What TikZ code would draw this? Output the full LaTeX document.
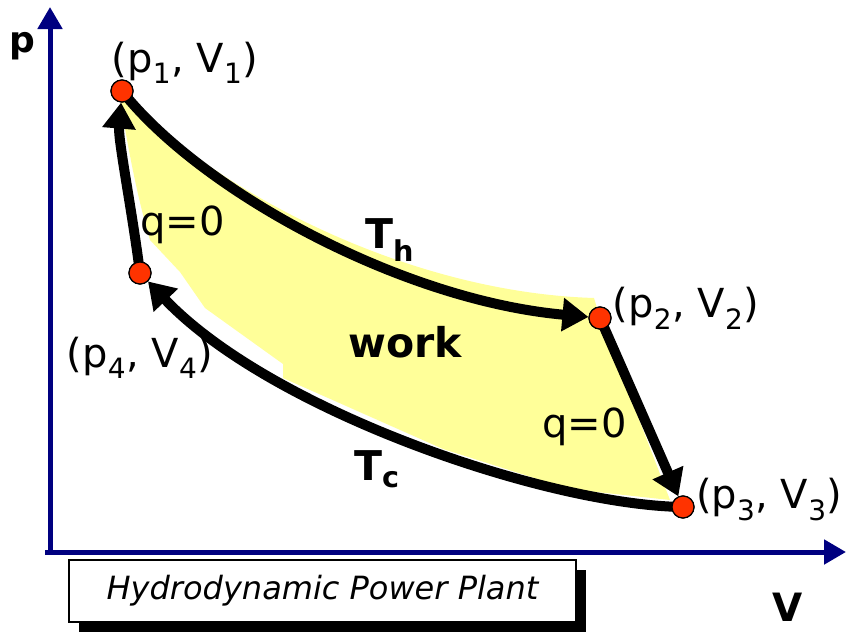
\documentclass[tikz,border=0pt]{standalone}
\usepackage{fontspec}
\setmainfont{DejaVu Sans}
\usetikzlibrary{arrows.meta}
\definecolor{axisblue}{RGB}{0,0,128}
\definecolor{dotred}{RGB}{255,51,0}
\definecolor{workyellow}{RGB}{255,255,153}
\begin{document}
\begin{tikzpicture}[x=1pt,y=-1pt,
  axis/.style={line width=5pt,draw=axisblue,-{Triangle[length=22pt,width=24pt]}},
  cycleline/.style={line width=10pt,draw=black,-{Triangle[length=26pt,width=32pt]}},
  dot/.style={circle,fill=dotred,draw=black,line width=1.2pt,minimum size=22pt,inner sep=0pt},
  lbl/.style={font=\fontsize{40}{45}\selectfont,inner sep=0pt},
  blbl/.style={font=\fontsize{41}{46}\selectfont\bfseries,inner sep=0pt}]
\useasboundingbox (0,0) rectangle (846,632);
% axes
\coordinate (o) at (50,552);
\coordinate (ytop) at (50,7);
\coordinate (xl) at (45,552);
\coordinate (xr) at (846,552);
\draw[axis] (o) -- (ytop);
\draw[axis] (xl) -- (xr);
% points
\coordinate (c1) at (122,91);
\coordinate (c2) at (600,318);
\coordinate (c3) at (683,507);
\coordinate (c4) at (140,273);
% work area
\fill[workyellow] (118,86) .. controls (200,183) and (400,292) .. (594,298) -- (c2) -- (670,500)
  -- (569,489) -- (443,449) -- (283,378) -- (283,364) -- (205,308) -- (180,272) -- (150,240)
  .. controls (138,200) and (128,150) .. (118,86) -- cycle;
\node[dot] (p1) at (c1) {};
\node[dot] (p2) at (c2) {};
\node[dot] (p3) at (c3) {};
\node[dot] (p4) at (c4) {};
% cycle
\draw[cycleline] (p1.center) .. controls (200,190) and (400,300) .. (p2);
\draw[cycleline] (p2.center) -- (p3);
\draw[cycleline] (p3.center) .. controls (545,505) and (270,410) .. (p4);
\draw[cycleline] (p4.center) .. controls (132,210) and (118,140) .. (p1);
\foreach \n in {p1,p2,p3,p4} \node[dot] at (\n) {};
% labels
\node[blbl,font=\fontsize{36}{40}\selectfont\bfseries,anchor=base west] (plab) at (9,52) {p};
\node[blbl,font=\fontsize{39}{44}\selectfont\bfseries,anchor=base] (vlab) at (788,621) {V};
\node[lbl,anchor=base] (l1) at (185,72) {(p\textsubscript{1}, V\textsubscript{1})};
\node[lbl,anchor=base] (l2) at (686,317) {(p\textsubscript{2}, V\textsubscript{2})};
\node[lbl,anchor=base west] (l3) at (696,508) {(p\textsubscript{3}, V\textsubscript{3})};
\node[lbl,anchor=base] (l4) at (140,367) {(p\textsubscript{4}, V\textsubscript{4})};
\node[lbl,anchor=base west] (q1) at (140,235) {q=0};
\node[lbl,anchor=base east] (q2) at (627,437) {q=0};
\node[blbl,anchor=base west] (th) at (365,248) {T\textsubscript{h}};
\node[blbl,anchor=base west] (tc) at (354,480) {T\textsubscript{c}};
\node[blbl,anchor=base] (work) at (405,357) {work};
% caption box
\fill[black] (79,570) rectangle (586,632);
\node[draw=black,fill=white,line width=1.2pt,minimum width=507pt,minimum height=62pt,
  inner sep=0pt,font=\fontsize{32}{37}\selectfont\itshape] (cap) at (322.5,591) {Hydrodynamic Power Plant};
\end{tikzpicture}
\end{document}
